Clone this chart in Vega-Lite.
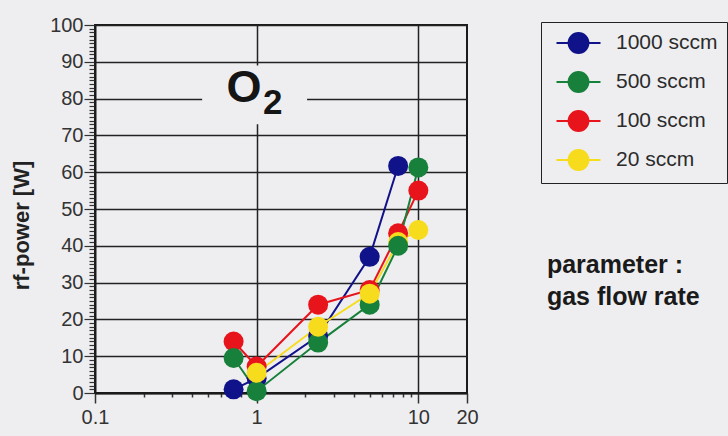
{
  "$schema": "https://vega.github.io/schema/vega-lite/v6.json",
  "width": 372,
  "height": 368,
  "autosize": "none",
  "padding": {"left": 95, "top": 25, "right": 261, "bottom": 43},
  "background": "#eeeef0",
  "config": {
    "view": {"stroke": "#1a1a1a", "strokeWidth": 2},
    "font": "Liberation Sans"
  },
  "layer": [
    {
      "data": {"values": [{"x": 0.46, "xe": 2.05, "y": 73, "ye": 89}]},
      "mark": {"type": "rect", "color": "#eeeef0"},
      "encoding": {
        "x": {
          "field": "x", "type": "quantitative",
          "scale": {"type": "log", "domain": [0.1, 20], "nice": false},
          "axis": {
            "title": null,
            "values": [0.1,0.2,0.3,0.4,0.5,0.6,0.7,0.8,0.9,1,2,3,4,5,6,7,8,9,10,20],
            "format": "~g",
            "labelExpr": "indexof([0.1,1,10,20], datum.value) >= 0 ? datum.label : ''",
            "grid": true,
            "gridColor": "#222222",
            "gridWidth": 1.5,
            "gridOpacity": {"condition": {"test": "datum.value == 1 || datum.value == 10", "value": 1}, "value": 0},
            "tickSize": {"condition": {"test": "indexof([0.1,1,10,20], datum.value) >= 0", "value": 10}, "value": 4},
            "tickColor": "#333333",
            "tickWidth": 1.5,
            "domainColor": "#1a1a1a",
            "domainWidth": 2,
            "labelFontSize": 20,
            "labelColor": "#333333",
            "labelPadding": 4,
            "labelOverlap": false,
            "labelFlush": false,
            "labelBound": false
          }
        },
        "x2": {"field": "xe"},
        "y": {
          "field": "y", "type": "quantitative",
          "scale": {"domain": [0, 100], "nice": false},
          "axis": {
            "title": "rf-power [W]",
            "titleFontSize": 22,
            "titleFontWeight": "bold",
            "titleColor": "#222222",
            "titleX": -74,
            "titleY": 200,
            "titleAngle": -90,
            "titleBaseline": "middle",
            "titleAlign": "center",
            "tickCount": 100,
            "labelExpr": "datum.value % 10 === 0 ? datum.label : ''",
            "grid": true,
            "gridColor": "#222222",
            "gridWidth": 1.5,
            "gridOpacity": {"condition": {"test": "datum.value % 10 === 0", "value": 1}, "value": 0},
            "tickSize": {"condition": {"test": "datum.value % 10 === 0", "value": 11}, "value": 6},
            "tickColor": "#333333",
            "tickWidth": 1.2,
            "domainColor": "#1a1a1a",
            "domainWidth": 2,
            "labelFontSize": 20,
            "labelColor": "#333333",
            "labelPadding": 1,
            "labelOverlap": false,
            "labelFlush": false
          }
        },
        "y2": {"field": "ye"}
      }
    },
    {
      "data": {"values": [{"x": 0.835, "y": 79.2, "t": "O"}]},
      "mark": {"type": "text", "fontSize": 45, "fontWeight": "bold", "align": "center", "baseline": "alphabetic", "color": "#151515"},
      "encoding": {
        "x": {"field": "x", "type": "quantitative", "scale": {"type": "log", "domain": [0.1, 20], "nice": false}},
        "y": {"field": "y", "type": "quantitative", "scale": {"domain": [0, 100], "nice": false}},
        "text": {"field": "t"}
      }
    },
    {
      "data": {"values": [{"x": 1.094, "y": 75.8, "t": "2"}]},
      "mark": {"type": "text", "fontSize": 35, "fontWeight": "bold", "align": "left", "baseline": "alphabetic", "color": "#151515"},
      "encoding": {
        "x": {"field": "x", "type": "quantitative", "scale": {"type": "log", "domain": [0.1, 20], "nice": false}},
        "y": {"field": "y", "type": "quantitative", "scale": {"domain": [0, 100], "nice": false}},
        "text": {"field": "t"}
      }
    },
    {
      "data": {"values": [{"x": 62.4, "y": 32.6, "t": "parameter :\ngas flow rate"}]},
      "mark": {"type": "text", "fontSize": 25, "fontWeight": "bold", "align": "left", "baseline": "alphabetic", "lineBreak": "\n", "lineHeight": 32, "color": "#1a1a1a", "clip": false},
      "encoding": {
        "x": {"field": "x", "type": "quantitative", "scale": {"type": "log", "domain": [0.1, 20], "nice": false}},
        "y": {"field": "y", "type": "quantitative", "scale": {"domain": [0, 100], "nice": false}},
        "text": {"field": "t"}
      }
    },
    {
      "data": {"name": "pts", "values": [
        {"s": "1000 sccm", "x": 0.72, "y": 1},
        {"s": "1000 sccm", "x": 1, "y": 4},
        {"s": "1000 sccm", "x": 2.4, "y": 15.5},
        {"s": "1000 sccm", "x": 5, "y": 37},
        {"s": "1000 sccm", "x": 7.5, "y": 61.7},
        {"s": "100 sccm", "x": 0.72, "y": 14},
        {"s": "100 sccm", "x": 1, "y": 7.2},
        {"s": "100 sccm", "x": 2.4, "y": 24},
        {"s": "100 sccm", "x": 5, "y": 28},
        {"s": "100 sccm", "x": 7.5, "y": 43.4},
        {"s": "100 sccm", "x": 10, "y": 55},
        {"s": "20 sccm", "x": 7.5, "y": 41},
        {"s": "500 sccm", "x": 0.72, "y": 9.5},
        {"s": "500 sccm", "x": 1, "y": 0.5},
        {"s": "500 sccm", "x": 2.4, "y": 13.7},
        {"s": "500 sccm", "x": 5, "y": 24},
        {"s": "500 sccm", "x": 7.5, "y": 40},
        {"s": "500 sccm", "x": 10, "y": 61.3},
        {"s": "20 sccm", "x": 1, "y": 5.5},
        {"s": "20 sccm", "x": 2.4, "y": 18},
        {"s": "20 sccm", "x": 5, "y": 27},
        {"s": "20 sccm", "x": 10, "y": 44.3}
      ]},
      "layer": [
        {
          "mark": {"type": "line", "strokeWidth": 2},
          "encoding": {
            "x": {"field": "x", "type": "quantitative", "scale": {"type": "log", "domain": [0.1, 20], "nice": false}},
            "y": {"field": "y", "type": "quantitative", "scale": {"domain": [0, 100], "nice": false}},
            "color": {"field": "s", "type": "nominal",
              "scale": {"domain": ["1000 sccm", "500 sccm", "100 sccm", "20 sccm"], "range": ["#10128a", "#17803a", "#e8141c", "#f7dc1e"]}}
          }
        },
        {
          "mark": {"type": "circle", "size": 400, "opacity": 1},
          "encoding": {
            "x": {"field": "x", "type": "quantitative", "scale": {"type": "log", "domain": [0.1, 20], "nice": false}},
            "y": {"field": "y", "type": "quantitative", "scale": {"domain": [0, 100], "nice": false}},
            "color": {"field": "s", "type": "nominal",
              "scale": {"domain": ["1000 sccm", "500 sccm", "100 sccm", "20 sccm"], "range": ["#10128a", "#17803a", "#e8141c", "#f7dc1e"]},
              "legend": {
                "title": null, "orient": "none", "legendX": 446, "legendY": -3,
                "symbolType": "M-0.5,0H3.5M0.6,0A0.9,0.9,0,1,1,2.4,0A0.9,0.9,0,1,1,0.6,0Z",
                "symbolSize": 484, "symbolStrokeWidth": 2, "symbolOpacity": 1,
                "labelFontSize": 21, "labelColor": "#2b2b2b", "labelFont": "Liberation Sans",
                "labelExpr": "datum.label + '\u00a0\u00a0\u00a0'",
                "labelOffset": 42, "padding": 9, "rowPadding": 11,
                "strokeColor": "#222222",
                "encode": {
                  "symbols": {"update": {"stroke": {"scale": "color", "field": "value"}, "fill": {"scale": "color", "field": "value"}}}
                }
              }
            }
          }
        }
      ]
    }
  ]
}
